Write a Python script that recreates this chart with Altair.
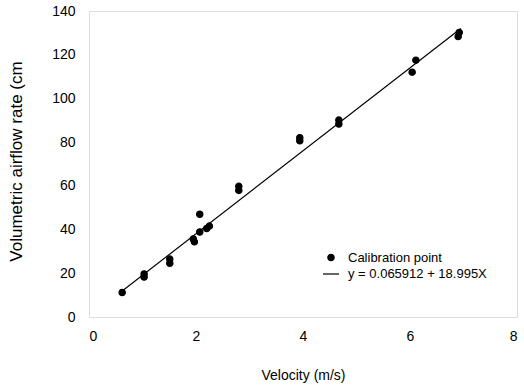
import altair as alt
import pandas as pd

# Calibration points
vel = [0.62, 1.03, 1.03, 1.51, 1.51, 1.95, 1.97, 2.07, 2.07, 2.20, 2.25,
       2.80, 2.80, 3.94, 3.94, 4.67, 4.67, 6.04, 6.11, 6.90, 6.92]
flow = [11.2, 19.7, 18.3, 26.5, 24.6, 35.7, 34.4, 47.0, 38.9, 40.5, 41.6,
        57.9, 59.8, 82.0, 80.6, 90.1, 88.3, 112.0, 117.5, 128.3, 130.2]

# Regression line end points
line_x = [0.62, 6.95]
line_y = [11.9, 132.0]

point_label = "Calibration point"
line_label = "y = 0.065912 + 18.995X"

pts = pd.DataFrame({"x": vel, "y": flow, "series": point_label})
ln = pd.DataFrame({"x": line_x, "y": line_y})

xs = alt.Scale(domain=[0, 8], nice=False, zero=False)
ys = alt.Scale(domain=[0, 140], nice=False)

font = "Liberation Sans"

xaxis = alt.Axis(values=[0, 2, 4, 6, 8], grid=False, ticks=False, domain=False,
                 labelFontSize=14, labelPadding=12, labelColor="black",
                 title="Velocity (m/s)", titleFontSize=14, titleFontWeight="normal",
                 titlePadding=25, titleColor="black")
yaxis = alt.Axis(values=[0, 20, 40, 60, 80, 100, 120, 140], grid=False, ticks=False,
                 domain=False, labelFontSize=14, labelPadding=14, labelColor="black",
                 title="Volumetric airflow rate (cm", titleFontSize=17,
                 titleFontWeight="normal", titleColor="black",
                 titleX=-64, titleY=150)

leg = dict(title=None, orient="none", legendX=233, legendY=240,
           labelFontSize=13, labelFont=font, labelColor="black",
           rowPadding=0, labelOffset=8, symbolFillColor="black",
           symbolStrokeWidth=1.2, symbolOpacity=1)
dom = [point_label, line_label]

points = alt.Chart(pts).mark_point(filled=True, fill="black", strokeWidth=1.2,
                                   opacity=1).encode(
    x=alt.X("x:Q", scale=xs, axis=xaxis),
    y=alt.Y("y:Q", scale=ys, axis=yaxis),
    shape=alt.Shape("series:N", scale=alt.Scale(domain=dom, range=["circle", "stroke"]),
                    legend=alt.Legend(**leg)),
    size=alt.Size("series:N", scale=alt.Scale(domain=dom, range=[40, 256]),
                  legend=alt.Legend(**leg)),
    stroke=alt.Stroke("series:N", scale=alt.Scale(domain=dom, range=["black", "black"]),
                      legend=alt.Legend(**leg)),
)

line = alt.Chart(ln).mark_line(color="black", strokeWidth=1.2).encode(
    x=alt.X("x:Q", scale=xs),
    y=alt.Y("y:Q", scale=ys),
)

chart = (line + points).properties(
    width=428, height=306,
    padding={"left": 89, "top": 11, "right": 7, "bottom": 69},
    autosize=alt.AutoSizeParams(type="none"),
).configure_view(stroke="black", strokeWidth=1.5).configure(
    font=font, background="white"
)

chart.save("out.html", embed_options={"renderer": "svg", "actions": False})
